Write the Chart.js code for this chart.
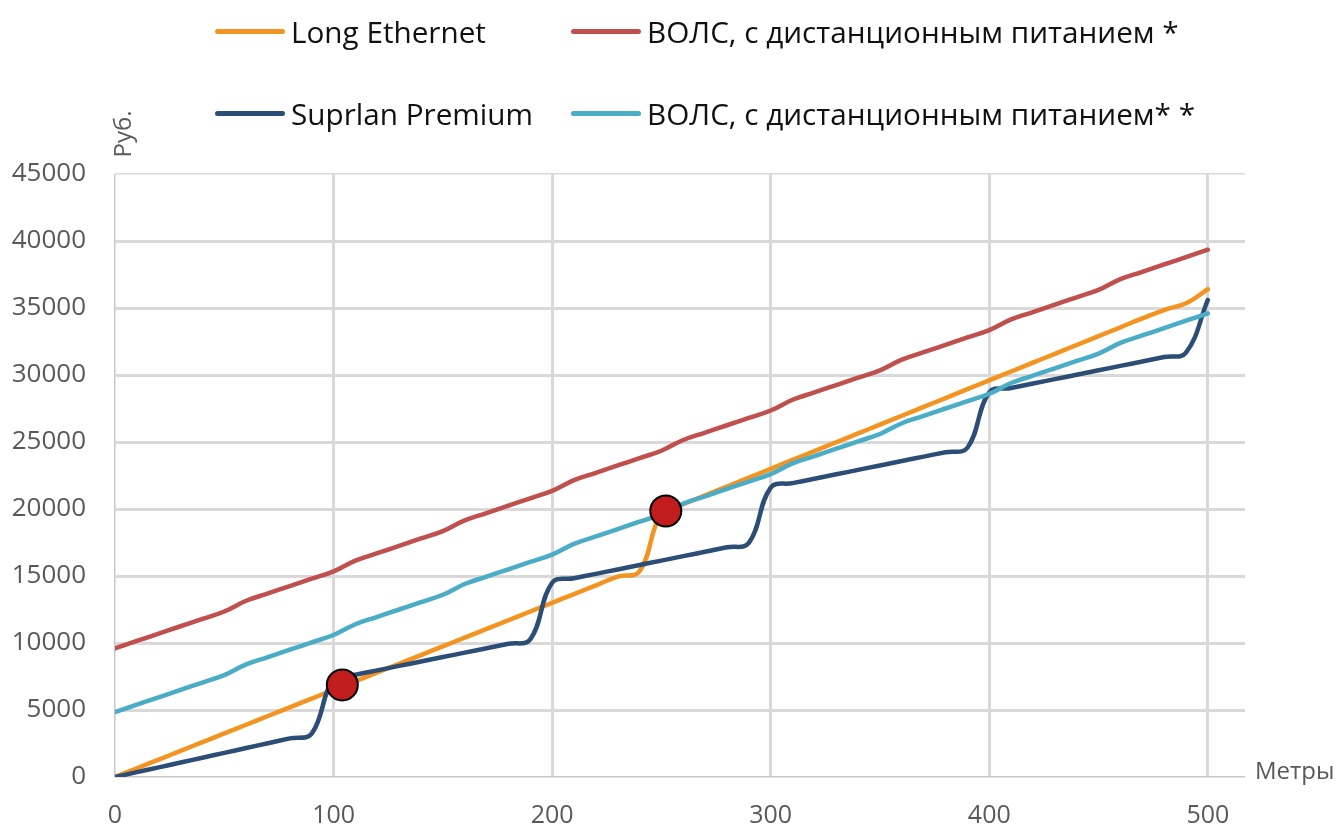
<!DOCTYPE html>
<html lang="ru">
<head>
  <meta charset="UTF-8" />
  <title>Стоимость линии связи по длине</title>
  <script src="https://cdn.jsdelivr.net/npm/chart.js"></script>
  <style>
    body {
      margin: 0;
      padding: 0;
      background: #fff;
      font-family: 'Open Sans', sans-serif;
    }

    .contenedor {
      position: relative;
      width: 1338px;
      height: 828px;
    }

    .leyenda .item {
      position: absolute;
      display: flex;
      align-items: center;
      height: 40px;
      font-size: 29.7px;
      color: #111;
      white-space: nowrap;
    }

    .leyenda .linea {
      width: 70px;
      height: 5px;
      border-radius: 3px;
      margin-right: 6px;
    }

    canvas {
      position: absolute;
      left: 0;
      top: 0;
    }
  </style>
</head>
<body>
  <div class="contenedor">
    <canvas id="graficoLineas" width="1338" height="828"></canvas>
    <div class="leyenda" id="leyenda"></div>
  </div>

  <script>
    // metros, cada 10 m
    const metros = [0, 10, 20, 30, 40, 50, 60, 70, 80, 90, 100, 110, 120, 130, 140, 150, 160, 170, 180, 190, 200,
      210, 220, 230, 240, 250, 260, 270, 280, 290, 300, 310, 320, 330, 340, 350, 360, 370, 380, 390, 400,
      410, 420, 430, 440, 450, 460, 470, 480, 490, 500];

    const longEthernet = [0, 650, 1300, 1950, 2600, 3250, 3900, 4550, 5200, 5850, 6500, 7150, 7800, 8450, 9100, 9750,
      10400, 11050, 11700, 12350, 13000, 13650, 14300, 14950, 15350, 19700, 20360, 21020, 21680, 22340, 23000,
      23660, 24320, 24980, 25640, 26300, 26960, 27620, 28280, 28940, 29600, 30260, 30920, 31580, 32240, 32900,
      33560, 34220, 34850, 35350, 36400];

    const volsPitanie1 = [9600, 10150, 10700, 11250, 11800, 12350, 13150, 13700, 14250, 14800, 15350, 16150, 16700,
      17250, 17800, 18350, 19150, 19700, 20250, 20800, 21350, 22150, 22700, 23250, 23800, 24350, 25150, 25700,
      26250, 26800, 27350, 28150, 28700, 29250, 29800, 30350, 31150, 31700, 32250, 32800, 33350, 34150, 34700,
      35250, 35800, 36350, 37150, 37700, 38250, 38800, 39350];

    const suprlanPremium = [0, 360, 720, 1080, 1440, 1800, 2160, 2520, 2880, 3240, 7300, 7630, 7960, 8290, 8620, 8950,
      9280, 9610, 9940, 10270, 14500, 14830, 15160, 15490, 15820, 16150, 16480, 16810, 17140, 17470, 21600,
      21930, 22260, 22590, 22920, 23250, 23580, 23910, 24240, 24570, 28700, 29030, 29360, 29690, 30020, 30350,
      30680, 31010, 31340, 31670, 35600];

    const volsPitanie2 = [4850, 5400, 5950, 6500, 7050, 7600, 8400, 8950, 9500, 10050, 10600, 11400, 11950, 12500,
      13050, 13600, 14400, 14950, 15500, 16050, 16600, 17400, 17950, 18500, 19050, 19600, 20400, 20950, 21500,
      22050, 22600, 23400, 23950, 24500, 25050, 25600, 26400, 26950, 27500, 28050, 28600, 29400, 29950, 30500,
      31050, 31600, 32400, 32950, 33500, 34050, 34600];

    // puntos de cruce (circulos rojos)
    const cruceX = [104, 252];
    const cruceY = [6870, 19850];

    const ticksX = [0, 100, 200, 300, 400, 500];
    const ticksY = [0, 5000, 10000, 15000, 20000, 25000, 30000, 35000, 40000, 45000];

    const series = [
      { label: 'Long Ethernet', valores: longEthernet, color: '#F39321', col: 0, fila: 0 },
      { label: 'ВОЛС, с дистанционным питанием *', valores: volsPitanie1, color: '#C0504D', col: 1, fila: 0 },
      { label: 'Suprlan Premium', valores: suprlanPremium, color: '#2C4D76', col: 0, fila: 1 },
      { label: 'ВОЛС, с дистанционным питанием* *', valores: volsPitanie2, color: '#4BACC6', col: 1, fila: 1 }
    ];

    const gris = '#595959';
    const fuente = '"Open Sans", sans-serif';

    // leyenda en dos filas, como en Excel
    const leyenda = document.getElementById('leyenda');
    const colX = [215, 571];
    const filaY = [11, 93];
    series.forEach(s => {
      const item = document.createElement('div');
      item.className = 'item';
      item.style.left = colX[s.col] + 'px';
      item.style.top = filaY[s.fila] + 'px';
      item.innerHTML = `<span class="linea" style="background:${s.color}"></span><span>${s.label}</span>`;
      leyenda.appendChild(item);
    });

    const titulosEjes = {
      id: 'titulosEjes',
      afterDraw(chart) {
        const { ctx, chartArea } = chart;
        ctx.save();
        ctx.font = '24px ' + fuente;
        ctx.fillStyle = gris;
        ctx.textBaseline = 'middle';
        ctx.textAlign = 'left';
        ctx.fillText('Метры', chartArea.right + 10, chartArea.bottom - 5);
        ctx.translate(chartArea.left + 9, chartArea.top - 40);
        ctx.rotate(-Math.PI / 2);
        ctx.textAlign = 'center';
        ctx.fillText('Руб.', 0, 0);
        ctx.restore();
      }
    };

    const datasets = series.map((s, i) => ({
      label: s.label,
      data: metros.map((m, j) => ({ x: m, y: s.valores[j] })),
      borderColor: s.color,
      backgroundColor: s.color,
      borderWidth: 4.5,
      borderCapStyle: 'round',
      borderJoinStyle: 'round',
      pointRadius: 0,
      tension: 0.4,
      order: 4 - i
    }));

    datasets.push({
      label: 'cruce',
      data: cruceX.map((x, j) => ({ x: x, y: cruceY[j] })),
      showLine: false,
      pointRadius: 15.5,
      pointBackgroundColor: '#C21D1D',
      pointBorderColor: '#000',
      pointBorderWidth: 2,
      order: 0
    });

    const lineaGrid = (ctx) => (ctx.tick && (ctx.tick.value === 0 || ctx.tick.value === 45000)) ? 1.5 : 3;
    const colorGrid = (ctx) => (ctx.tick && ctx.tick.value === 0) ? '#C8C8C8' : '#D9D9D9';

    new Chart(document.getElementById('graficoLineas'), {
      type: 'line',
      data: { datasets: datasets },
      options: {
        responsive: false,
        animation: false,
        layout: { padding: { top: 174, right: 93, bottom: 0, left: 0 } },
        plugins: {
          legend: { display: false },
          tooltip: { enabled: false }
        },
        scales: {
          x: {
            type: 'linear',
            min: 0,
            max: 517,
            afterBuildTicks: (scale) => { scale.ticks = ticksX.map(v => ({ value: v })); },
            afterFit: (scale) => { scale.height = 51; },
            border: { display: false },
            grid: { color: colorGrid, lineWidth: lineaGrid, drawTicks: false },
            ticks: { color: gris, font: { family: fuente, size: 25 }, padding: 24, maxRotation: 0, callback: v => String(v) }
          },
          y: {
            min: 0,
            max: 45000,
            afterBuildTicks: (scale) => { scale.ticks = ticksY.map(v => ({ value: v })); },
            afterFit: (scale) => { scale.width = 115; },
            border: { display: false },
            grid: { color: colorGrid, lineWidth: lineaGrid, drawTicks: false },
            ticks: { color: gris, font: { family: fuente, size: 26 }, padding: 29, callback: v => String(v) }
          }
        }
      },
      plugins: [titulosEjes]
    });
  </script>
</body>
</html>
